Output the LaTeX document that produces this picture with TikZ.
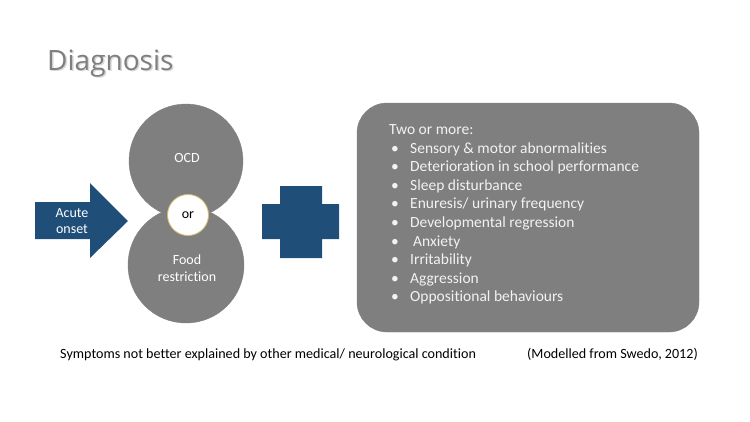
\documentclass[tikz,border=0pt]{standalone}
\usepackage{fontspec}
\setmainfont[Ligatures=NoCommon]{Carlito}
\newfontfamily\headfont{Open Sans}
\definecolor{slate}{RGB}{127,127,127}
\definecolor{navy}{RGB}{31,78,121}
\definecolor{gold}{RGB}{214,190,110}
\definecolor{paper}{RGB}{242,242,242}
\tikzset{
  blob/.style={circle,fill=slate,draw=slate,inner sep=0pt},
  item/.style={anchor=base west,text=paper,font=\fontsize{15.5}{18}\selectfont,inner sep=0pt},
  note/.style={anchor=base west,font=\fontsize{14.1}{16}\selectfont,inner sep=0pt}
}
\newcommand{\pt}{\makebox[21pt][l]{\hspace{2pt}•}}
\begin{document}
\begin{tikzpicture}[x=1pt,y=-1pt]
\useasboundingbox (0,0) rectangle (750,421);
% title
\node[anchor=base west,text=gray!30,font=\headfont\fontsize{28}{32}\selectfont,inner sep=0pt] at (48.5,71.5) {Diagnosis};
\node[anchor=base west,text=slate,font=\headfont\fontsize{28}{32}\selectfont,inner sep=0pt] (title) at (47,70) {Diagnosis};
% arrow
\fill[navy] (35,202) -- (90,202) -- (90,183) -- (128,221) -- (90,258) -- (90,239) -- (35,239) -- cycle;
\node[text=white,align=center,font=\fontsize{14}{16.5}\selectfont] (onset) at (72,221) {Acute\\onset};
% circles
\node[blob,minimum size=114pt] (ocd) at (186,161) {};
\node[text=white,font=\fontsize{14}{16}\selectfont] at (187,158) {OCD};
\node[blob,minimum size=116pt] (food) at (186,265) {};
\node[text=white,align=center,font=\fontsize{14}{17.5}\selectfont] at (187,268) {Food\\restriction};
\node[circle,fill=white,draw=gold,line width=0.8pt,minimum size=41pt,inner sep=0pt,font=\fontsize{14}{16}\selectfont] (or) at (188,215) {or};
% plus
\fill[navy] (280,186) -- (322,186) -- (322,204) -- (339,204) -- (339,239) -- (322,239) -- (322,258) -- (280,258) -- (280,239) -- (262,239) -- (262,204) -- (280,204) -- cycle;
% list box
\node[draw=slate,fill=slate,rounded corners=30pt,minimum width=342pt,minimum height=229pt,inner sep=0pt] (box) at (528,217.5) {};
\node[item] (head) at (389,134) {Two or more:};
\node[item] (i1) at (389,153) {\pt Sensory \& motor abnormalities};
\node[item] (i2) at (389,171.5) {\pt Deterioration in school performance};
\node[item] (i3) at (389,190) {\pt Sleep disturbance};
\node[item] (i4) at (389,208.5) {\pt Enuresis/ urinary frequency};
\node[item] (i5) at (389,227) {\pt Developmental regression};
\node[item] (i6) at (389,246) {\pt\hspace{3pt}Anxiety};
\node[item] (i7) at (389,264.5) {\pt Irritability};
\node[item] (i8) at (389,283) {\pt Aggression};
\node[item] (i9) at (389,301.5) {\pt Oppositional behaviours};
% footer
\node[note] (cond) at (60,358) {Symptoms not better explained by other medical/ neurological condition};
\node[note] (src) at (527,358) {(Modelled from Swedo, 2012)};
\end{tikzpicture}
\end{document}
